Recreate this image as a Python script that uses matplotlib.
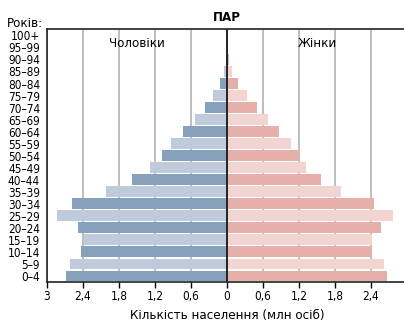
import numpy as np
import matplotlib
matplotlib.use("Agg")
import matplotlib.pyplot as plt

plt.rcParams['font.family'] = ['DejaVu Sans']
plt.rcParams['font.stretch'] = 'condensed'

# age groups, bottom to top
ages = ['0–4', '5–9', '10–14', '15–19', '20–24', '25–29', '30–34', '35–39',
        '40–44', '45–49', '50–54', '55–59', '60–64', '65–69', '70–74',
        '75–79', '80–84', '85–89', '90–94', '95–99', '100+']
# million people
males = [2.68, 2.61, 2.44, 2.39, 2.49, 2.83, 2.58, 2.01, 1.59, 1.28, 1.08,
         0.93, 0.73, 0.53, 0.36, 0.23, 0.11, 0.045, 0.012, 0.004, 0.001]
females = [2.67, 2.62, 2.42, 2.41, 2.57, 2.77, 2.45, 1.90, 1.56, 1.32, 1.20,
           1.06, 0.87, 0.69, 0.50, 0.34, 0.19, 0.09, 0.04, 0.01, 0.003]
xticks = [-3, -2.4, -1.8, -1.2, -0.6, 0, 0.6, 1.2, 1.8, 2.4, 3]
xtick_labels = ['3', '2,4', '1,8', '1,2', '0,6', '0', '0,6', '1,2', '1,8', '2,4', '3']

m_cols = ['#87a0bb', '#bfcadb']
f_cols = ['#e5b0a8', '#f2d5d1']

fig = plt.figure(figsize=(4.04, 3.23), dpi=100)
ax = fig.add_axes([0.1163, 0.127, 0.891, 0.782])

y = np.arange(len(ages))
mc = [m_cols[i % 2] for i in y]
fc = [f_cols[i % 2] for i in y]
ax.barh(y, -np.array(males), height=0.9, color=mc, zorder=2)
ax.barh(y, females, height=0.9, color=fc, zorder=2)

for t in xticks:
    if t != 0:
        ax.axvline(t, color='#b3b3b3', lw=1.2, zorder=1)
ax.axvline(0, color='#222222', lw=1.4, zorder=3)

ax.set_xlim(-3, 3)
ax.set_ylim(-0.5, 20.5)
ax.set_xticks(xticks)
ax.set_xticklabels(xtick_labels, fontsize=8.5)
ax.set_yticks(y)
ax.set_yticklabels(ages, fontsize=8.5)
ax.tick_params(axis='y', length=0, pad=5)
ax.tick_params(axis='x', length=4, width=1, direction='out', pad=2)
for s in ax.spines.values():
    s.set_linewidth(1.2)
    s.set_color('#222222')
ax.spines['right'].set_visible(False)

ax.set_xlabel('Кількість населення (млн осіб)', fontsize=9.5, labelpad=4)
ax.text(-1.5, 19.3, 'Чоловіки', ha='center', va='center', fontsize=9.5)
ax.text(1.5, 19.3, 'Жінки', ha='center', va='center', fontsize=9.5)
fig.text(0.5619, 0.947, 'ПАР', ha='center', va='center', fontsize=9.5, weight='bold')
fig.text(0.107, 0.928, 'Років:', ha='right', va='center', fontsize=9.5)

fig.savefig('out.png', dpi=100)
